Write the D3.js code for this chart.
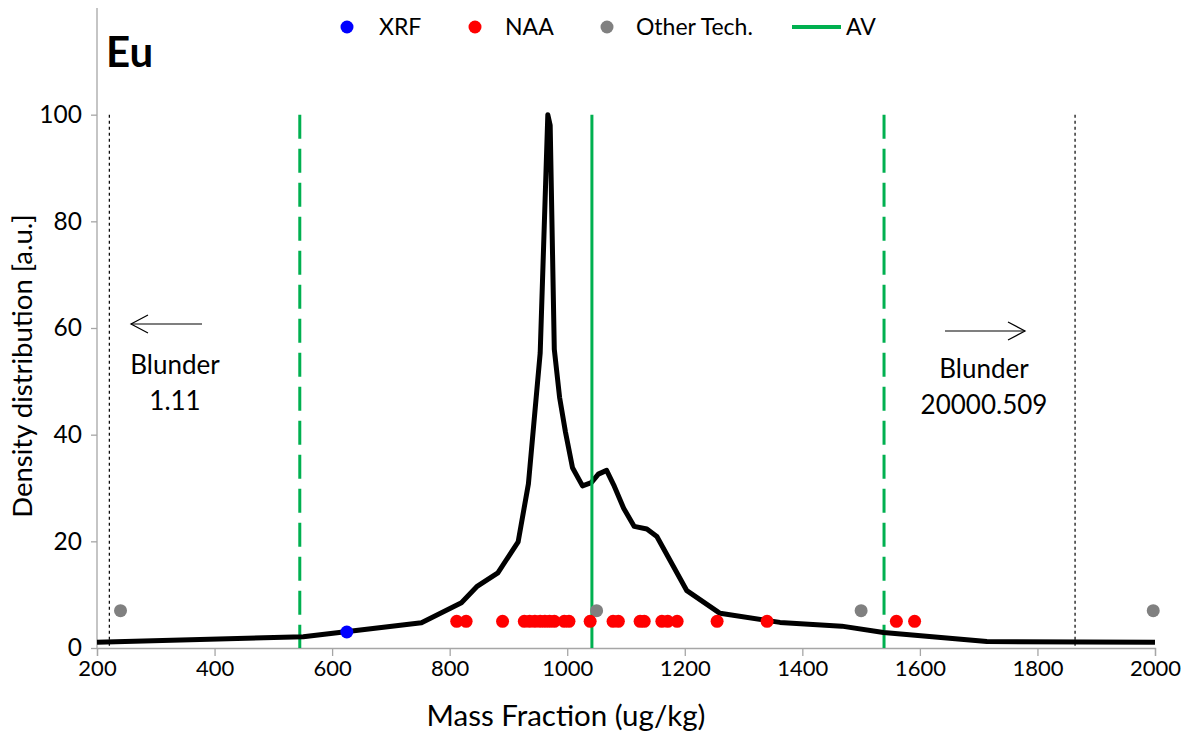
<!DOCTYPE html>
<html>
<head>
<meta charset="utf-8">
<script src="https://cdn.jsdelivr.net/npm/d3@7/dist/d3.min.js"></script>
<style>
  html, body { margin: 0; padding: 0; background: #fff; }
  svg { display: block; }
  text { font-family: Lato, "Open Sans", "Liberation Sans", sans-serif; fill: #000; }
</style>
</head>
<body>
<svg id="chart" width="1194" height="736"></svg>
<script>
// Density curve (mass fraction ug/kg vs. density a.u.)
const curveX = [200, 551, 752, 820, 846, 882, 916.5, 934, 954, 967, 971, 978, 987, 997, 1009, 1026, 1041, 1053, 1067, 1079, 1096, 1114, 1135.5, 1152.5, 1203.5, 1260, 1362, 1467, 1538, 1714, 2000];
const curveY = [1.1, 2.1, 4.75, 8.5, 11.5, 14.1, 19.9, 30.8, 55.3, 100, 98, 56, 47, 40.5, 33.8, 30.4, 31.0, 32.6, 33.3, 30.6, 26.2, 22.8, 22.3, 20.9, 10.75, 6.5, 4.8, 4.1, 2.9, 1.2, 1.1];

// Reported results by technique
const xrfX = [625];
const xrfY = 3;
const naaX = [812, 828, 890, 927, 936, 945, 954, 962, 970, 978, 995, 1003, 1039, 1078, 1087, 1124, 1131, 1161, 1171, 1187, 1255, 1340, 1560, 1591];
const naaY = 5;
const otherX = [240, 1050, 1500, 1997];
const otherY = 7;

// Assigned value and its limits, blunder cut-offs
const assignedValue = 1042;
const limitLines = [545, 1539];
const blunderLines = [221, 1864];
const blunderLabels = [["Blunder", "1.11"], ["Blunder", "20000.509"]];

// Axis ticks and labels
const xTicks = [200, 400, 600, 800, 1000, 1200, 1400, 1600, 1800, 2000];
const yTicks = [0, 20, 40, 60, 80, 100];
const legendItems = ["XRF", "NAA", "Other Tech.", "AV"];

const svg = d3.select("#chart");
const x = d3.scaleLinear().domain([200, 2000]).range([97, 1155]);
const y = d3.scaleLinear().domain([0, 120]).range([648, 8]);

const green = "#00B050";
const axisGray = "#A6A6A6";

// Axes
const xAxis = svg.append("g").attr("transform", `translate(0,${y(0)})`)
  .call(d3.axisBottom(x).tickValues(xTicks).tickSize(8).tickPadding(4).tickFormat(d3.format("d")));
xAxis.select(".domain").attr("stroke", axisGray).attr("stroke-width", 1.3);
xAxis.selectAll(".tick line").attr("stroke", axisGray).attr("stroke-width", 1.3);
xAxis.selectAll(".tick text").attr("font-size", 22).attr("font-family", "Lato, sans-serif");

const yAxis = svg.append("g").attr("transform", `translate(${x(200)},0)`)
  .call(d3.axisLeft(y).tickValues(yTicks).tickSize(6).tickPadding(9));
yAxis.select(".domain").attr("stroke", axisGray).attr("stroke-width", 1.3)
  .attr("d", `M-0,${y(120)}V${y(0)}`);
yAxis.selectAll(".tick line").attr("stroke", axisGray).attr("stroke-width", 1.3);
yAxis.selectAll(".tick text").attr("font-size", 24.5).attr("font-family", "Lato, sans-serif");

// Blunder cut-off lines
svg.selectAll(".blunder").data(blunderLines).enter().append("line")
  .attr("x1", d => x(d)).attr("x2", d => x(d))
  .attr("y1", y(100)).attr("y2", y(0))
  .attr("stroke", "#000").attr("stroke-width", 1.2).attr("stroke-dasharray", "3,3");

// Limit lines around the assigned value
svg.selectAll(".limit").data(limitLines).enter().append("line")
  .attr("x1", d => x(d)).attr("x2", d => x(d))
  .attr("y1", y(100)).attr("y2", y(0))
  .attr("stroke", green).attr("stroke-width", 3).attr("stroke-dasharray", "24,10");

// Density curve
const curve = curveX.map((v, i) => [v, curveY[i]]);
svg.append("path").datum(curve)
  .attr("fill", "none").attr("stroke", "#000").attr("stroke-width", 5)
  .attr("stroke-linejoin", "round")
  .attr("d", d3.line().x(d => x(d[0])).y(d => y(d[1])));

// Assigned value line
svg.append("line")
  .attr("x1", x(assignedValue)).attr("x2", x(assignedValue))
  .attr("y1", y(100)).attr("y2", y(0))
  .attr("stroke", green).attr("stroke-width", 3);

// Points
function dots(vals, yv, color) {
  svg.append("g").selectAll("circle").data(vals).enter().append("circle")
    .attr("cx", d => x(d)).attr("cy", y(yv)).attr("r", 6.5).attr("fill", color);
}
dots(otherX, otherY, "#808080");
dots(naaX, naaY, "#FF0000");
dots(xrfX, xrfY, "#0000FF");

// Blunder annotations with arrows
function arrow(x1, x2, yy) {
  const dir = Math.sign(x2 - x1);
  svg.append("line").attr("x1", x1).attr("x2", x2).attr("y1", yy).attr("y2", yy)
    .attr("stroke", "#000").attr("stroke-width", 1.2);
  svg.append("path")
    .attr("d", `M${x2 - dir * 17},${yy - 9}L${x2},${yy}L${x2 - dir * 17},${yy + 9}`)
    .attr("fill", "none").attr("stroke", "#000").attr("stroke-width", 1.2);
}
arrow(202, 131, 324);
arrow(945, 1025, 331);

const blunderPos = [[175, 374], [984, 378]];
blunderLabels.forEach((lines, i) => {
  const t = svg.append("text").attr("text-anchor", "middle").attr("font-size", 26);
  lines.forEach((s, j) => {
    t.append("tspan").attr("x", blunderPos[i][0]).attr("y", blunderPos[i][1] + j * 36).text(s);
  });
});

// Element title
svg.append("text").attr("x", 106).attr("y", 67).attr("font-size", 42).attr("font-weight", "bold").text("Eu");

// Axis titles
svg.append("text").attr("x", 566).attr("y", 726).attr("text-anchor", "middle")
  .attr("font-size", 29.5).text("Mass Fraction (ug/kg)");
svg.append("text").attr("transform", "translate(32,366) rotate(-90)").attr("text-anchor", "middle")
  .attr("font-size", 27.5).text("Density distribution [a.u.]");

// Legend
const legend = svg.append("g");
const legendDots = [[347, "#0000FF"], [475, "#FF0000"], [607, "#808080"]];
legendDots.forEach(([cx, c]) => legend.append("circle").attr("cx", cx).attr("cy", 27).attr("r", 6.5).attr("fill", c));
legend.append("line").attr("x1", 792).attr("x2", 841).attr("y1", 27).attr("y2", 27)
  .attr("stroke", green).attr("stroke-width", 4);
const legendTextX = [379, 505, 636, 846];
legendItems.forEach((s, i) => legend.append("text").attr("x", legendTextX[i]).attr("y", 35)
  .attr("font-size", 23).text(s));
</script>
</body>
</html>
